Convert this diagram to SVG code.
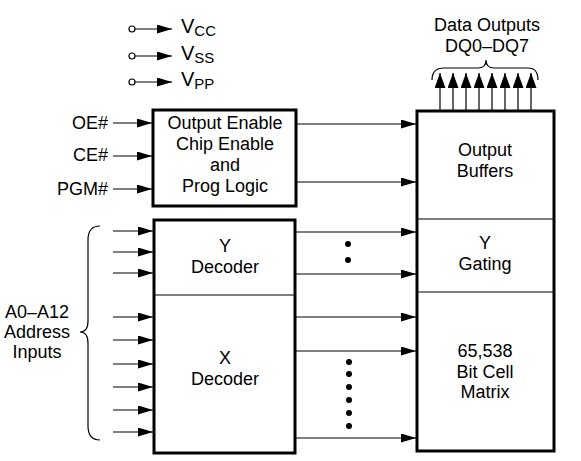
<svg xmlns="http://www.w3.org/2000/svg" width="581" height="461" viewBox="0 0 581 461">
<style>
text{font-family:"Liberation Sans",Arial,sans-serif;font-size:18px;fill:#000}
.c{text-anchor:middle}
.r{text-anchor:end}
.v{font-size:20px}
.sub{font-size:15px}
.box{fill:#fff;stroke:#000;stroke-width:3}
.ln{stroke:#000;stroke-width:1.2;fill:none}
.div{stroke:#000;stroke-width:1.2}
</style>
<defs>
<marker id="ah" markerUnits="userSpaceOnUse" markerWidth="15" markerHeight="9" viewBox="0 0 15 9" refX="15" refY="4.5" orient="auto">
<path d="M0,0 L15,4.5 L0,9 Z" fill="#000"/>
</marker>
<marker id="ahu" markerUnits="userSpaceOnUse" markerWidth="15" markerHeight="11" viewBox="0 0 15 11" refX="15" refY="5.5" orient="auto">
<path d="M0,0 L15,5.5 L0,11 Z" fill="#000"/>
</marker>
</defs>
<rect width="581" height="461" fill="#fff"/>

<g id="supplies">
<circle cx="132" cy="29" r="3" fill="#fff" stroke="#000" stroke-width="1.2"/>
<circle cx="132" cy="56" r="3" fill="#fff" stroke="#000" stroke-width="1.2"/>
<circle cx="132" cy="82" r="3" fill="#fff" stroke="#000" stroke-width="1.2"/>
<text class="v" x="181" y="33">V<tspan class="sub" dy="3">CC</tspan></text>
<text class="v" x="181" y="60">V<tspan class="sub" dy="3">SS</tspan></text>
<text class="v" x="181" y="86">V<tspan class="sub" dy="3">PP</tspan></text>
</g>

<g id="data-outputs">
<text class="c" x="487" y="31">Data Outputs</text>
<text class="c" x="487" y="52">DQ0–DQ7</text>
<path class="ln" d="M432,80 Q432,68 444,68 L478,68 Q486,68 486,60 Q486,68 494,68 L528,68 Q538,68 538,80"/>
</g>

<g id="address-label">
<text class="c" x="37" y="318">A0–A12</text>
<text class="c" x="37" y="338">Address</text>
<text class="c" x="37" y="358">Inputs</text>
<path class="ln" d="M100,226 Q88,226 88,240 L88,321 Q88,332 80,332 Q88,332 88,343 L88,426 Q88,440 100,440"/>
</g>

<g id="control-labels">
<text class="r" x="108" y="129">OE#</text>
<text class="r" x="108" y="161">CE#</text>
<text class="r" x="108" y="195">PGM#</text>
</g>

<g id="control-logic">
<rect class="box" x="153" y="110" width="143" height="96"/>
<text class="c" x="225" y="129">Output Enable</text>
<text class="c" x="225" y="150">Chip Enable</text>
<text class="c" x="225" y="171">and</text>
<text class="c" x="225" y="192">Prog Logic</text>
</g>

<g id="decoders">
<rect class="box" x="154" y="220" width="141" height="233"/>
<line class="div" x1="154" y1="295" x2="295" y2="295"/>
<text class="c" x="225" y="252">Y</text>
<text class="c" x="225" y="273">Decoder</text>
<text class="c" x="225" y="364">X</text>
<text class="c" x="225" y="385">Decoder</text>
</g>

<g id="output-side">
<rect class="box" x="417" y="111" width="137" height="340"/>
<line class="div" x1="417" y1="219" x2="554" y2="219"/>
<line class="div" x1="417" y1="292" x2="554" y2="292"/>
<text class="c" x="485" y="156">Output</text>
<text class="c" x="485" y="177">Buffers</text>
<text class="c" x="485" y="249">Y</text>
<text class="c" x="485" y="270">Gating</text>
<text class="c" x="485" y="357">65,538</text>
<text class="c" x="485" y="378">Bit Cell</text>
<text class="c" x="485" y="398">Matrix</text>
</g>

<g id="connectors" class="ln" marker-end="url(#ah)">
<line x1="135" y1="29" x2="172" y2="29"/>
<line x1="135" y1="56" x2="172" y2="56"/>
<line x1="135" y1="82" x2="172" y2="82"/>
<line x1="113" y1="123" x2="152" y2="123"/>
<line x1="113" y1="156" x2="152" y2="156"/>
<line x1="113" y1="189" x2="152" y2="189"/>
<line x1="297" y1="124" x2="416" y2="124"/>
<line x1="297" y1="182" x2="416" y2="182"/>
<line x1="113" y1="231" x2="153" y2="231"/>
<line x1="113" y1="252" x2="153" y2="252"/>
<line x1="113" y1="273" x2="153" y2="273"/>
<line x1="113" y1="317" x2="153" y2="317"/>
<line x1="113" y1="340" x2="153" y2="340"/>
<line x1="113" y1="364" x2="153" y2="364"/>
<line x1="113" y1="387" x2="153" y2="387"/>
<line x1="113" y1="410" x2="153" y2="410"/>
<line x1="113" y1="432" x2="153" y2="432"/>
<line x1="296" y1="232" x2="416" y2="232"/>
<line x1="296" y1="274" x2="416" y2="274"/>
<line x1="296" y1="317" x2="416" y2="317"/>
<line x1="296" y1="351" x2="416" y2="351"/>
<line x1="296" y1="438" x2="416" y2="438"/>
<g marker-end="url(#ahu)">
<line x1="440" y1="110" x2="440" y2="73"/>
<line x1="453" y1="110" x2="453" y2="73"/>
<line x1="466" y1="110" x2="466" y2="73"/>
<line x1="479" y1="110" x2="479" y2="73"/>
<line x1="492" y1="110" x2="492" y2="73"/>
<line x1="505" y1="110" x2="505" y2="73"/>
<line x1="518" y1="110" x2="518" y2="73"/>
<line x1="531" y1="110" x2="531" y2="73"/>
</g>
</g>

<g id="ellipsis" fill="#000">
<circle cx="348" cy="244" r="3"/>
<circle cx="348" cy="260" r="3"/>
<circle cx="349" cy="362" r="3"/>
<circle cx="349" cy="374" r="3"/>
<circle cx="349" cy="387" r="3"/>
<circle cx="349" cy="400" r="3"/>
<circle cx="349" cy="413" r="3"/>
<circle cx="349" cy="426" r="3"/>
</g>
</svg>
